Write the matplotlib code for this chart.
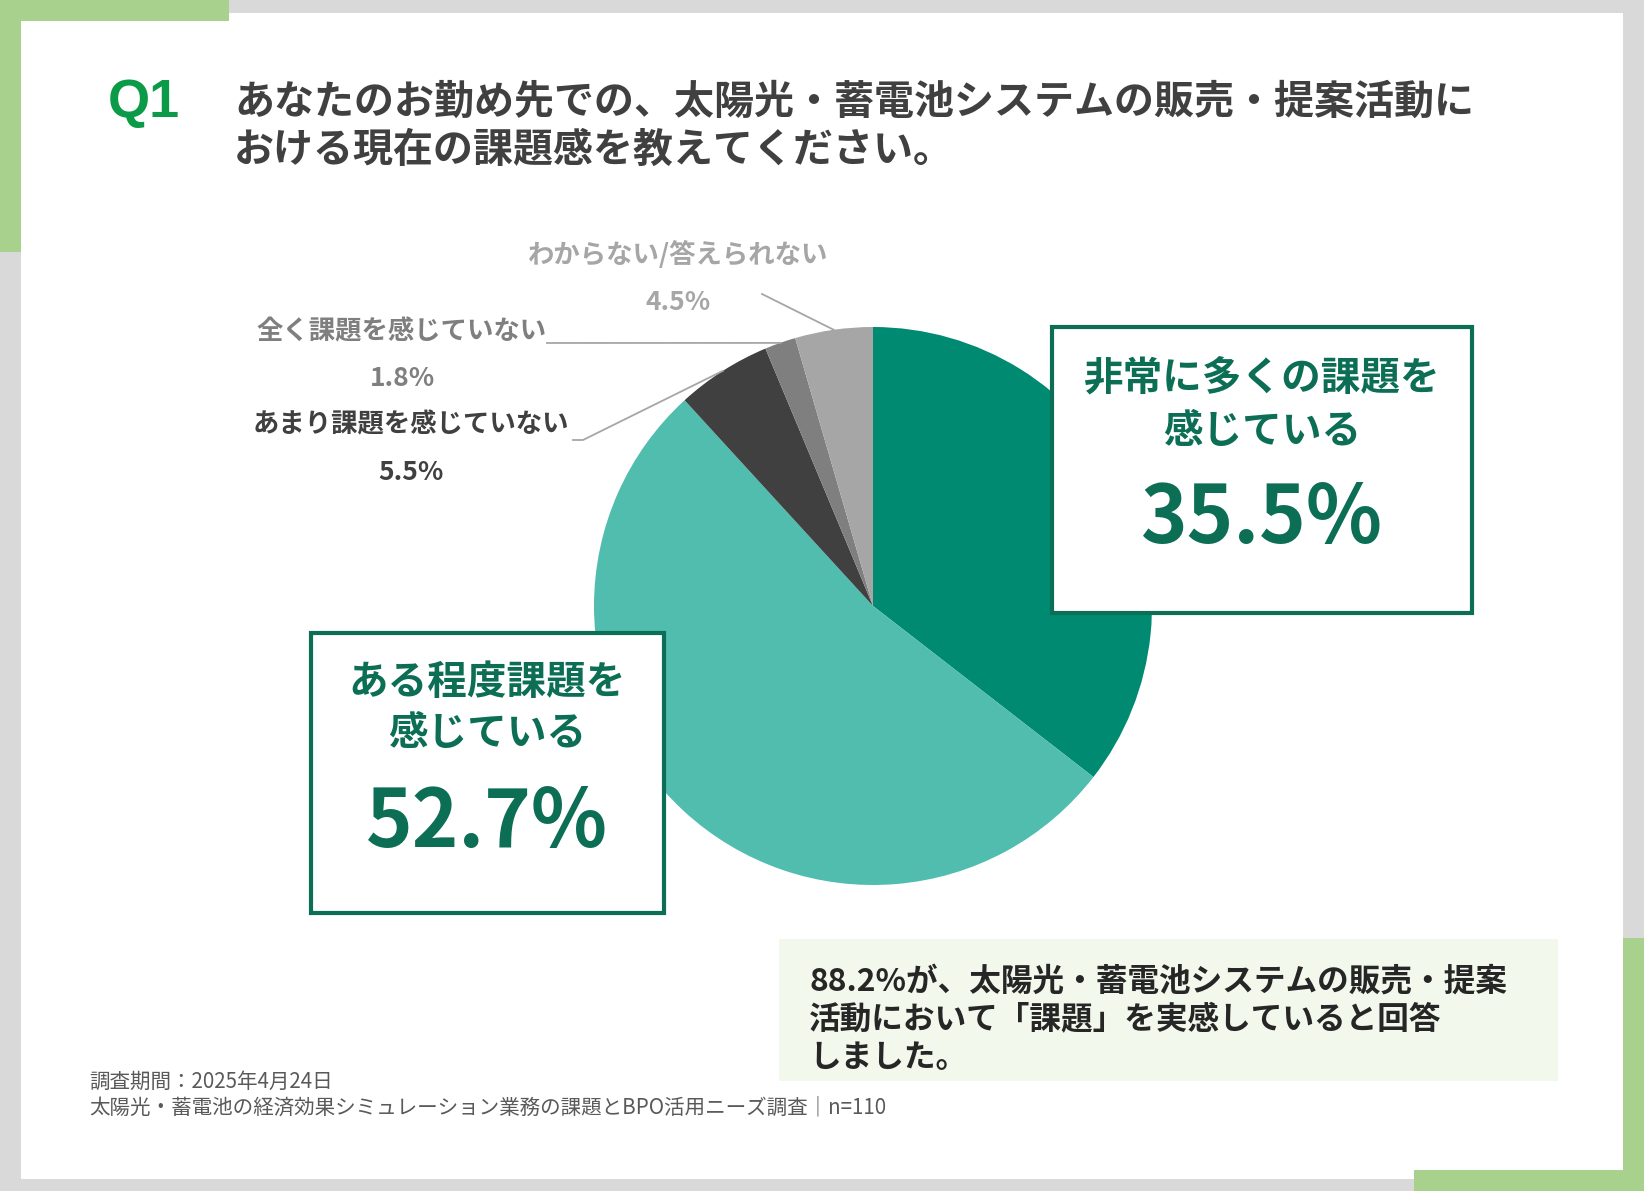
import numpy as np
import matplotlib
matplotlib.use("Agg")
import matplotlib.pyplot as plt
from matplotlib.patches import Rectangle

plt.rcParams['font.family'] = ['Noto Sans CJK JP', 'DejaVu Sans']

# survey answers (clockwise from 12 o'clock)
categories = ["非常に多くの課題を感じている", "ある程度課題を感じている",
              "あまり課題を感じていない", "全く課題を感じていない",
              "わからない/答えられない"]
values = [35.5, 52.7, 5.5, 1.8, 4.5]
colors = ["#008a72", "#50bdaf", "#404040", "#7f7f7f", "#a6a6a6"]

title_lines = ["あなたのお勤め先での、太陽光・蓄電池システムの販売・提案活動に",
               "おける現在の課題感を教えてください。"]
summary_lines = ["88.2%が、太陽光・蓄電池システムの販売・提案",
                 "活動において「課題」を実感していると回答",
                 "しました。"]
footer_lines = ["調査期間：2025年4月24日",
                "太陽光・蓄電池の経済効果シミュレーション業務の課題とBPO活用ニーズ調査｜n=110"]

W, H = 1644, 1191
GREEN = "#0b6e55"
DECO = "#a9d18e"

fig = plt.figure(figsize=(W / 100, H / 100), dpi=100)
fig.patch.set_facecolor("#d9d9d9")

# background / frame layer (pixel coordinates, y down)
bg = fig.add_axes([0, 0, 1, 1], zorder=0)
bg.set_xlim(0, W)
bg.set_ylim(H, 0)
bg.axis("off")
bg.add_patch(Rectangle((21, 13), 1602, 1166, facecolor="white", edgecolor="none"))
bg.add_patch(Rectangle((0, 0), 229, 21, facecolor=DECO, edgecolor="none"))
bg.add_patch(Rectangle((0, 0), 21, 252, facecolor=DECO, edgecolor="none"))
bg.add_patch(Rectangle((1414, 1170), 230, 21, facecolor=DECO, edgecolor="none"))
bg.add_patch(Rectangle((1623, 938), 21, 253, facecolor=DECO, edgecolor="none"))

# pie
cx, cy, r = 873, 606, 279
pax = fig.add_axes([(cx - r) / W, (H - cy - r) / H, 2 * r / W, 2 * r / H], zorder=1)
pax.pie(values, colors=colors, startangle=90, counterclock=False,
        wedgeprops=dict(linewidth=0))
pax.set_xlim(-1, 1)
pax.set_ylim(-1, 1)
pax.axis("off")

# overlay layer for labels and boxes
ov = fig.add_axes([0, 0, 1, 1], zorder=2)
ov.set_xlim(0, W)
ov.set_ylim(H, 0)
ov.axis("off")
ov.patch.set_alpha(0)

ov.text(108, 103, "Q1", family="Liberation Sans", fontsize=39, fontweight="bold",
        color="#0a9a48", va="center", ha="left")
ov.text(234, 102, title_lines[0], fontsize=28.8, fontweight="bold", color="#404040",
        va="center", ha="left")
ov.text(234, 150, title_lines[1], fontsize=28.8, fontweight="bold", color="#404040",
        va="center", ha="left")

# slice mid-angles on the rim, for leader lines
cum = np.cumsum([0] + values[:-1])
mid = np.deg2rad(90 - (cum + np.array(values) / 2) * 3.6)
rim = [(cx + r * np.cos(a), cy - r * np.sin(a)) for a in mid]

# big boxed labels for the two main answers
box_specs = [
    (0, (1052, 327, 420, 286), 1262, (378, 432, 520), ["非常に多くの課題を", "感じている"]),
    (1, (311, 633, 353, 280), 487, (682, 733, 824), ["ある程度課題を", "感じている"]),
]
for idx, (x0, y0, bw, bh), tx, ys, lines in box_specs:
    ov.add_patch(Rectangle((x0, y0), bw, bh, facecolor="white", edgecolor=GREEN, linewidth=3))
    ov.text(tx, ys[0], lines[0], fontsize=28.5, fontweight="bold", color=GREEN, ha="center", va="center")
    ov.text(tx, ys[1], lines[1], fontsize=28.5, fontweight="bold", color=GREEN, ha="center", va="center")
    ov.text(tx, ys[2], f"{values[idx]:.1f}%", fontsize=57, fontweight="bold", color=GREEN,
            ha="center", va="center")

# small outside labels with leader lines
small_specs = [
    (4, (678, 255), (678, 302), [(762, 294)], "#a6a6a6"),
    (3, (402, 332), (402, 378), [(547, 343)], "#7f7f7f"),
    (2, (411, 425), (411, 472), [(573, 440), (583, 440)], "#404040"),
]
for idx, (lx, ly), (px, py), pts, col in small_specs:
    ov.text(lx, ly, categories[idx], fontsize=19, fontweight="bold", color=col, ha="center", va="center")
    ov.text(px, py, f"{values[idx]:.1f}%", fontsize=19, fontweight="bold", color=col, ha="center", va="center")
    xs = [p[0] for p in pts] + [rim[idx][0]]
    ys = [p[1] for p in pts] + [rim[idx][1]]
    ov.plot(xs, ys, color="#a6a6a6", linewidth=1.3)

# summary callout
ov.add_patch(Rectangle((779, 939), 779, 142, facecolor="#f2f8ec", edgecolor="none"))
for y, line in zip([982, 1020, 1058], summary_lines):
    ov.text(809, y, line, fontsize=22.8, fontweight="bold", color="#262626", ha="left", va="center")

# footer
for y, line in zip([1082, 1107], footer_lines):
    ov.text(89, y, line, fontsize=14.8, color="#595959", ha="left", va="center")

fig.savefig("out.png", dpi=100, facecolor=fig.get_facecolor())
